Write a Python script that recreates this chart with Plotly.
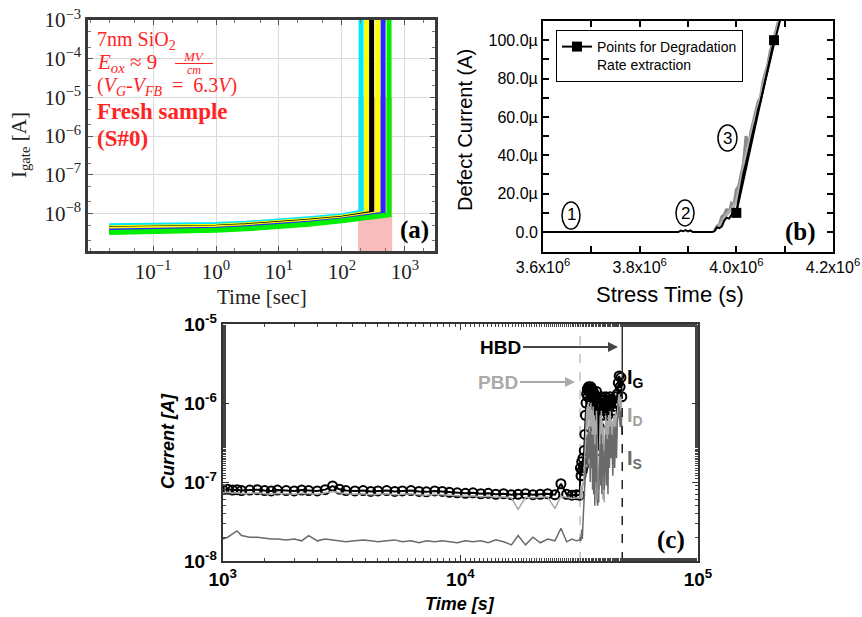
import plotly.graph_objects as go

W, H = 862, 617
def px(x): return x / W
def py(y): return 1 - y / H

SERIF = "Liberation Serif"
SANS = "Liberation Sans"

# ---------------- Panel (a) data ----------------
a_colors = ["#00e8ff", "#ffff00", "#000000", "#ffff00", "#2a2aff", "#00ee00"]
a_t = [
    [0.02, 0.1, 0.3, 1, 3, 10, 30, 100, 202, 202],
    [0.02, 0.1, 0.3, 1, 3, 10, 30, 100, 200, 247, 247],
    [0.02, 0.1, 0.3, 1, 3, 10, 30, 100, 200, 297, 297],
    [0.02, 0.1, 0.3, 1, 3, 10, 30, 100, 200, 370, 370],
    [0.02, 0.1, 0.3, 1, 3, 10, 30, 100, 200, 400, 452, 452],
    [0.02, 0.1, 0.3, 1, 3, 10, 30, 100, 200, 400, 562, 562],
]
a_i = [
    [4.8e-9, 4.9e-9, 5.0e-9, 5.2e-9, 5.6e-9, 6.3e-9, 7.3e-9, 8.7e-9, 1.08e-8, 1e-2],
    [4.3e-9, 4.4e-9, 4.5e-9, 4.7e-9, 5.1e-9, 5.8e-9, 6.7e-9, 8.0e-9, 9.6e-9, 1.02e-8, 1e-2],
    [4.0e-9, 4.1e-9, 4.2e-9, 4.4e-9, 4.8e-9, 5.4e-9, 6.3e-9, 7.5e-9, 9.0e-9, 1.0e-8, 1e-2],
    [3.9e-9, 4.0e-9, 4.1e-9, 4.3e-9, 4.6e-9, 5.2e-9, 6.0e-9, 7.2e-9, 8.6e-9, 9.8e-9, 1e-2],
    [3.5e-9, 3.6e-9, 3.7e-9, 3.9e-9, 4.3e-9, 4.9e-9, 5.6e-9, 6.8e-9, 8.0e-9, 9.2e-9, 9.5e-9, 1e-2],
    [3.2e-9, 3.3e-9, 3.4e-9, 3.7e-9, 4.0e-9, 4.6e-9, 5.3e-9, 6.5e-9, 7.5e-9, 8.7e-9, 9.3e-9, 1e-2],
]
a_window_t = [181, 630]
a_window_i = [1e-10, 1e-5]
a_xticks = [0.1, 1, 10, 100, 1000]
a_xlabels = ["10<sup>−1</sup>", "10<sup>0</sup>", "10<sup>1</sup>", "10<sup>2</sup>", "10<sup>3</sup>"]
a_yticks = [1e-8, 1e-7, 1e-6, 1e-5, 1e-4, 1e-3]
a_ylabels = ["10<sup>−8</sup>", "10<sup>−7</sup>", "10<sup>−6</sup>", "10<sup>−5</sup>", "10<sup>−4</sup>", "10<sup>−3</sup>"]

# ---------------- Panel (b) data (time in 1e6 s, current in µA) ----------------
b_t = [3.60, 3.70, 3.80, 3.86, 3.88, 3.885, 3.89, 3.895, 3.90, 3.905, 3.91, 3.95, 3.955, 3.96, 3.965,
       3.97, 3.975, 3.98, 3.985, 3.99, 3.995, 4.00, 4.005, 4.01, 4.015, 4.02, 4.025, 4.03, 4.035, 4.04,
       4.045, 4.05, 4.055, 4.06, 4.065, 4.07, 4.075, 4.08, 4.085, 4.09, 4.095]
b_i = [0, 0, 0, 0, 0, 0.8, 0.4, 1.0, 0.3, 0.9, 0, 0, 0.5, 2.5, 2.0,
       3.0, 6.0, 7.5, 7.0, 9.0, 11.0, 10.5, 18, 25, 31, 36, 42, 48, 53, 58,
       64, 68, 74, 79, 84, 90, 95, 100, 105, 110, 115]
b_g1_t = [3.955, 3.96, 3.965, 3.97, 3.975, 3.98, 3.985, 3.99, 3.995, 4.0, 4.005, 4.01, 4.015, 4.02,
          4.025, 4.03, 4.035, 4.04, 4.045, 4.05, 4.055, 4.06, 4.065, 4.07, 4.075, 4.08, 4.085, 4.09]
b_g1_i = [1, 3, 4, 8, 9, 12, 10, 15, 14, 22, 24, 30, 36, 50,
          44, 52, 57, 62, 68, 70, 78, 83, 87, 94, 98, 103, 108, 112]
b_g2_t = [3.96, 3.97, 3.98, 3.99, 4.0, 4.01, 4.02, 4.03, 4.04, 4.05, 4.06, 4.07, 4.08, 4.09]
b_g2_i = [2, 5, 9, 12, 16, 27, 40, 50, 60, 70, 81, 91, 102, 111]
b_pts_t = [4.0, 4.078]
b_pts_i = [10, 100]
b_xticks = [3.6, 3.7, 3.8, 3.9, 4.0, 4.1, 4.2]
b_xlabels = ["3.6x10<sup>6</sup>", "", "3.8x10<sup>6</sup>", "", "4.0x10<sup>6</sup>", "", "4.2x10<sup>6</sup>"]
b_yticks = [0, 20, 40, 60, 80, 100]
b_ylabels = ["0.0", "20.0µ", "40.0µ", "60.0µ", "80.0µ", "100.0µ"]

# ---------------- Panel (c) data ----------------
c_t_pre = [1000, 1050, 1100, 1150, 1200, 1300, 1400, 1500, 1600, 1700,
           1850, 2000, 2150, 2300, 2500, 2700, 2900, 3100, 3300, 3600,
           3900, 4200, 4500, 4900, 5300, 5700, 6200, 6700, 7200, 7800,
           8400, 9000, 9700, 10500, 11300, 12200, 13100, 14100, 15200, 16400,
           17500, 18800, 20200, 21700, 23300, 25000, 26500, 28000, 29500, 30800,
           31800]
c_t_post = [32000, 32200, 32400, 32600, 32800, 33000, 33200, 33400, 33600, 33800,
            34000, 34200, 34400, 34600, 34800, 35000, 35200, 35400, 35600, 35800,
            36000, 36200, 36400, 36600, 36800, 37000, 37200, 37400, 37600, 37800,
            38000, 38200, 38400, 38600, 38800, 39000, 39200, 39400, 39600, 39800,
            40000, 40300, 40600, 40900, 41200, 41500, 41800, 42100, 42400, 42700,
            43000, 43400, 43800, 44200, 44600, 45000, 45400, 45800, 46200, 46600,
            47000, 47400, 47800]
c_ig_pre = [8.0e-8, 8.1e-8, 7.9e-8, 8.0e-8, 7.8e-8, 7.9e-8, 8.0e-8, 7.8e-8, 7.7e-8, 7.9e-8,
            7.8e-8, 7.7e-8, 7.9e-8, 7.8e-8, 7.7e-8, 8.0e-8, 8.9e-8, 8.1e-8, 7.8e-8, 7.7e-8,
            7.8e-8, 7.6e-8, 7.7e-8, 7.8e-8, 7.6e-8, 7.7e-8, 7.8e-8, 7.6e-8, 7.5e-8, 7.7e-8,
            7.6e-8, 7.4e-8, 7.3e-8, 7.2e-8, 7.3e-8, 7.1e-8, 7.2e-8, 7.0e-8, 7.1e-8, 6.9e-8,
            7.0e-8, 7.1e-8, 6.9e-8, 7.0e-8, 7.1e-8, 6.9e-8, 9.5e-8, 7.0e-8, 6.8e-8, 6.9e-8,
            6.8e-8]
c_id_pre = [7.3e-8, 7.4e-8, 7.2e-8, 7.3e-8, 7.1e-8, 7.2e-8, 7.3e-8, 7.1e-8, 7.0e-8, 7.2e-8,
            7.1e-8, 7.0e-8, 7.2e-8, 7.1e-8, 7.0e-8, 7.3e-8, 7.6e-8, 7.3e-8, 7.1e-8, 7.0e-8,
            7.1e-8, 6.9e-8, 7.0e-8, 7.1e-8, 6.9e-8, 7.0e-8, 7.1e-8, 6.9e-8, 6.8e-8, 7.0e-8,
            6.9e-8, 6.8e-8, 6.7e-8, 6.6e-8, 6.7e-8, 6.5e-8, 6.6e-8, 6.4e-8, 6.5e-8, 6.3e-8,
            4.5e-8, 6.4e-8, 6.3e-8, 6.4e-8, 6.5e-8, 4.6e-8, 6.6e-8, 6.4e-8, 6.2e-8, 6.3e-8,
            6.2e-8]
c_is_pre = [1.9e-8, 2.0e-8, 2.2e-8, 2.4e-8, 2.1e-8, 2.0e-8, 2.0e-8, 1.95e-8, 1.9e-8, 1.9e-8,
            1.85e-8, 1.9e-8, 1.8e-8, 2.1e-8, 1.8e-8, 1.9e-8, 1.85e-8, 1.8e-8, 1.75e-8, 1.8e-8,
            1.85e-8, 1.8e-8, 1.75e-8, 1.8e-8, 1.85e-8, 1.75e-8, 1.8e-8, 1.7e-8, 1.8e-8, 1.75e-8,
            1.8e-8, 1.75e-8, 1.7e-8, 1.8e-8, 1.75e-8, 1.8e-8, 1.7e-8, 1.85e-8, 1.75e-8, 1.6e-8,
            2.1e-8, 1.6e-8, 2.0e-8, 1.7e-8, 1.9e-8, 1.8e-8, 2.6e-8, 1.75e-8, 1.9e-8, 1.8e-8,
            1.85e-8]
c_ig_post = [1.5e-7, 1.2e-7, 1.8e-7, 1.4e-7, 2.0e-7, 1.6e-7,
             2.5e-7, 4e-7, 7e-7, 1.0e-6, 1.3e-6,
             1.5e-6, 1.2e-6, 1.6e-6, 1.4e-6, 1.5e-6, 1.1e-6, 1.6e-6, 1.3e-6, 1.5e-6, 1.2e-6,
             1.4e-6, 8e-7, 1.3e-6, 5e-7, 1.2e-6, 9e-7, 1.4e-6, 1.0e-6,
             6e-7, 3e-7, 2.5e-7, 5e-7, 9e-7,
             1.1e-6, 8e-7, 1.2e-6, 9e-7, 1.1e-6, 7e-7, 1.0e-6,
             1.1e-6, 8e-7, 1.2e-6, 9e-7, 1.0e-6, 7e-7, 1.1e-6, 9e-7, 1.2e-6, 1.0e-6,
             1.1e-6, 8e-7, 1.0e-6, 9e-7, 1.2e-6, 1.0e-6, 1.3e-6,
             1.8e-6, 2.2e-6, 1.6e-6, 2.1e-6, 1.2e-6]
c_id_post = [7e-8, 9e-8, 6e-8, 8e-8, 1.0e-7, 9e-8,
             1.5e-7, 2.5e-7, 4e-7, 6e-7, 8e-7,
             9e-7, 5e-7, 1.0e-6, 6e-7, 9e-7, 3e-7, 1.0e-6, 5e-7, 8e-7, 4e-7,
             9e-7, 2e-7, 7e-7, 1.2e-7, 6e-7, 3e-7, 8e-7, 2e-7,
             1.5e-7, 9e-8, 8e-8, 2e-7, 5e-7,
             7e-7, 3e-7, 8e-7, 2e-7, 6e-7, 6e-8, 5e-7,
             5.5e-8, 4e-7, 7e-7, 2e-7, 6e-7, 1.5e-7, 7e-7, 3e-7, 8e-7, 4e-7,
             6e-7, 2.5e-7, 7e-7, 3e-7, 8e-7, 4e-7, 9e-7,
             1.1e-6, 1.3e-6, 8e-7, 1.2e-6, 6e-7]
c_is_post = [2e-8, 1.8e-8, 2.5e-8, 1.9e-8, 3e-8, 4.5e-8,
             7e-8, 1.0e-7, 1.5e-7, 2.5e-7, 3.5e-7,
             4e-7, 1.5e-7, 5e-7, 2e-7, 4e-7, 1.0e-7, 5e-7, 1.5e-7, 4e-7, 8e-8,
             4e-7, 7e-8, 3e-7, 5e-8, 3e-7, 1.0e-7, 4e-7, 6e-8,
             5e-8, 6e-8, 5.5e-8, 1.2e-7, 2.5e-7,
             3e-7, 9e-8, 4e-7, 7e-8, 3e-7, 1.2e-7, 2.5e-7,
             8e-8, 3e-7, 4e-7, 9e-8, 3.5e-7, 7e-8, 4e-7, 1.5e-7, 5e-7, 2e-7,
             4e-7, 1.2e-7, 5e-7, 1.5e-7, 5e-7, 2e-7, 6e-7,
             7e-7, 9e-7, 5e-7, 8e-7, 4e-7]
c_t_pbd = 3.19e4
c_t_hbd = 4.8e4
c_ig_peak = 2.2e-6
c_xticks = [1e3, 1e4, 1e5]
c_xlabels = ["<b>10<sup>3</sup></b>", "<b>10<sup>4</sup></b>", "<b>10<sup>5</sup></b>"]
c_yticks = [1e-8, 1e-7, 1e-6, 1e-5]
c_ylabels = ["<b>10<sup>-8</sup></b>", "<b>10<sup>-7</sup></b>", "<b>10<sup>-6</sup></b>", "<b>10<sup>-5</sup></b>"]

fig = go.Figure()

# ---- (a) traces ----
fig.add_trace(go.Scatter(
    x=[a_window_t[0], a_window_t[1], a_window_t[1], a_window_t[0], a_window_t[0]],
    y=[a_window_i[0], a_window_i[0], a_window_i[1], a_window_i[1], a_window_i[0]],
    fill="toself", fillcolor="#f9bcbc", line=dict(width=0), mode="lines",
    xaxis="x", yaxis="y", showlegend=False, hoverinfo="skip"))
for col, tt, ii in zip(a_colors, a_t, a_i):
    fig.add_trace(go.Scatter(x=tt, y=ii, mode="lines", line=dict(color=col, width=5),
                             xaxis="x", yaxis="y", showlegend=False))

# ---- (b) traces ----
fig.add_trace(go.Scatter(x=b_g1_t, y=b_g1_i, mode="lines", line=dict(color="#8a8a8a", width=3),
                         xaxis="x2", yaxis="y2", showlegend=False))
fig.add_trace(go.Scatter(x=b_g2_t, y=b_g2_i, mode="lines", line=dict(color="#b0b0b0", width=3),
                         xaxis="x2", yaxis="y2", showlegend=False))
fig.add_trace(go.Scatter(x=b_t, y=b_i, mode="lines", line=dict(color="black", width=2),
                         xaxis="x2", yaxis="y2", showlegend=False))
fig.add_trace(go.Scatter(x=b_pts_t, y=b_pts_i, mode="lines+markers",
                         line=dict(color="black", width=2),
                         marker=dict(symbol="square", size=10, color="black"),
                         name="Points for Degradation<br>Rate extraction",
                         xaxis="x2", yaxis="y2", showlegend=True))

# ---- (c) traces ----
fig.add_trace(go.Scatter(x=[c_t_pbd, c_t_pbd], y=[1e-8, 1e-5], mode="lines",
                         line=dict(color="#c0c0c0", width=1.5, dash="dash"),
                         xaxis="x3", yaxis="y3", showlegend=False))
fig.add_trace(go.Scatter(x=c_t_pre + c_t_post, y=c_ig_pre + c_ig_post, mode="lines+markers",
                         line=dict(color="black", width=2),
                         marker=dict(symbol="circle-open", size=9, color="black", line=dict(width=2)),
                         xaxis="x3", yaxis="y3", showlegend=False))
fig.add_trace(go.Scatter(x=c_t_pre + c_t_post, y=c_id_pre + c_id_post, mode="lines",
                         line=dict(color="#a8a8a8", width=1.5),
                         xaxis="x3", yaxis="y3", showlegend=False))
fig.add_trace(go.Scatter(x=c_t_pre + c_t_post, y=c_is_pre + c_is_post, mode="lines",
                         line=dict(color="#6a6a6a", width=1.5),
                         xaxis="x3", yaxis="y3", showlegend=False))
fig.add_trace(go.Scatter(x=[c_t_hbd, c_t_hbd], y=[1e-8, c_ig_peak], mode="lines",
                         line=dict(color="#222222", width=1.5, dash="dash"),
                         xaxis="x3", yaxis="y3", showlegend=False))
fig.add_trace(go.Scatter(x=[c_t_hbd, c_t_hbd], y=[c_ig_peak, 1e-5], mode="lines",
                         line=dict(color="#333333", width=1.5),
                         xaxis="x3", yaxis="y3", showlegend=False))

# ---------------- Axes ----------------
axa = dict(showline=True, mirror="ticks", linewidth=3, linecolor="#3a3a3a", automargin=False,
           ticks="inside", ticklen=5, tickcolor="#555", showgrid=True, gridcolor="#dadada",
           zeroline=False, tickfont=dict(family=SERIF, size=21, color="#222"),
           minor=dict(ticks="inside", ticklen=3, tickcolor="#777", showgrid=False))
axb = dict(showline=True, mirror="ticks", linewidth=2, linecolor="black", automargin=False,
           ticks="inside", ticklen=6, tickwidth=1.5, tickcolor="black", showgrid=False,
           zeroline=False, tickfont=dict(family=SANS, size=16, color="black"))
axc = dict(showline=True, mirror="ticks", linewidth=2, linecolor="#333", automargin=False,
           ticks="inside", ticklen=6, tickcolor="#333", showgrid=False, zeroline=False,
           tickfont=dict(family=SANS, size=19, color="black"),
           minor=dict(ticks="inside", ticklen=3, tickcolor="#444", showgrid=False))

fig.update_layout(
    width=W, height=H, margin=dict(l=0, r=0, t=0, b=0, pad=0, autoexpand=False),
    paper_bgcolor="white", plot_bgcolor="white",
    xaxis=dict(axa, type="log", range=[-2.03, 3.48], domain=[px(88.3), px(435)], anchor="y",
               tickvals=a_xticks, ticktext=a_xlabels),
    yaxis=dict(axa, type="log", range=[-8.97, -3], domain=[py(251), py(20)], anchor="x",
               tickvals=a_yticks, ticktext=a_ylabels),
    xaxis2=dict(axb, range=[3.6, 4.2], domain=[px(543), px(833)], anchor="y2",
                tickvals=b_xticks, ticktext=b_xlabels),
    yaxis2=dict(axb, range=[-10.4, 110], domain=[py(252), py(21)], anchor="x2",
                tickvals=b_yticks, ticktext=b_ylabels,
                minor=dict(ticks="inside", ticklen=6, tickwidth=1.5, tickcolor="black", dtick=10)),
    xaxis3=dict(axc, type="log", range=[3, 5], domain=[px(222.7), px(698)], anchor="y3",
                tickvals=c_xticks, ticktext=c_xlabels),
    yaxis3=dict(axc, type="log", range=[-8, -5], domain=[py(561), py(324)], anchor="x3",
                tickvals=c_yticks, ticktext=c_ylabels),
    legend=dict(x=px(556), y=py(30), xanchor="left", yanchor="top", bgcolor="white",
                bordercolor="black", borderwidth=1, font=dict(family=SANS, size=14, color="black"),
                valign="top", itemwidth=30),
)

anns = []
def ann(text, x, y, size, color="black", family=SERIF, xanchor="center", yanchor="middle", angle=0):
    anns.append(dict(text=text, x=px(x), y=py(y), xref="paper", yref="paper", showarrow=False,
                     xanchor=xanchor, yanchor=yanchor, textangle=angle, borderpad=0,
                     font=dict(family=family, size=size, color=color)))

RED = "#ff2424"
# (a) texts
ann("7nm SiO<sub>2</sub>", 96, 41, 20, RED, xanchor="left")
ann("<i>E<sub>ox</sub></i> ≈ 9", 96, 63, 21, RED, xanchor="left")
ann("<i>MV</i>", 194, 56, 13, RED)
ann("<i>cm</i>", 194, 70, 12, RED)
ann("(<i>V<sub>G</sub></i>-<i>V<sub>FB</sub></i> &nbsp;=&nbsp; 6.3<i>V</i>)", 96, 86, 20, RED, xanchor="left")
ann("<b>Fresh sample</b>", 96, 111, 23, RED, xanchor="left")
ann("<b>(S#0)</b>", 96, 138, 23, RED, xanchor="left")
ann("<b>(a)</b>", 414, 230, 25)
ann("Time [sec]", 262, 297, 21, "#222")
ann("I<sub>gate</sub> [A]", 20, 145, 21, "#222", angle=-90)
# (b) texts
ann("<b>(b)</b>", 800, 232, 25)
ann("Defect Current (A)", 465, 130, 20, family=SANS, angle=-90)
ann("Stress Time (s)", 670, 294, 22, family=SANS)
ann("1", 571, 215, 17, family=SANS)
ann("2", 685, 213, 17, family=SANS)
ann("3", 727, 138, 17, family=SANS)
# (c) texts
ann("<b>(c)</b>", 671, 540, 25)
ann("<b><i>Current [A]</i></b>", 168, 441, 18, family=SANS, angle=-90)
ann("<b><i>Time [s]</i></b>", 460, 604, 18, family=SANS)
ann("<b>I<sub>G</sub></b>", 626, 378, 20, "black", family=SANS, xanchor="left")
ann("<b>I<sub>D</sub></b>", 626, 416, 20, "#a0a0a0", family=SANS, xanchor="left")
ann("<b>I<sub>S</sub></b>", 626, 459, 20, "#6a6a6a", family=SANS, xanchor="left")
anns.append(dict(text="<b>HBD</b>", x=px(618), y=py(347), xref="paper", yref="paper",
                 showarrow=True, ax=-95, ay=0, xanchor="right", arrowhead=2, arrowsize=1,
                 arrowwidth=2, arrowcolor="#444", font=dict(family=SANS, size=19, color="black")))
anns.append(dict(text="<b>PBD</b>", x=px(575), y=py(382), xref="paper", yref="paper",
                 showarrow=True, ax=-55, ay=0, xanchor="right", arrowhead=2, arrowsize=1,
                 arrowwidth=2, arrowcolor="#aaaaaa", font=dict(family=SANS, size=19, color="#aaaaaa")))
fig.update_layout(annotations=anns)

shapes = [
    dict(type="line", xref="paper", yref="paper", x0=px(175), x1=px(213), y0=py(63.5), y1=py(63.5),
         line=dict(color=RED, width=1)),
    dict(type="circle", xref="paper", yref="paper", x0=px(562), x1=px(580), y0=py(229), y1=py(202),
         line=dict(color="black", width=1.5)),
    dict(type="circle", xref="paper", yref="paper", x0=px(676), x1=px(694), y0=py(226), y1=py(200),
         line=dict(color="black", width=1.5)),
    dict(type="circle", xref="paper", yref="paper", x0=px(718), x1=px(737), y0=py(151), y1=py(125),
         line=dict(color="black", width=1.5)),
]
fig.update_layout(shapes=shapes)

fig.write_html("out.html")
